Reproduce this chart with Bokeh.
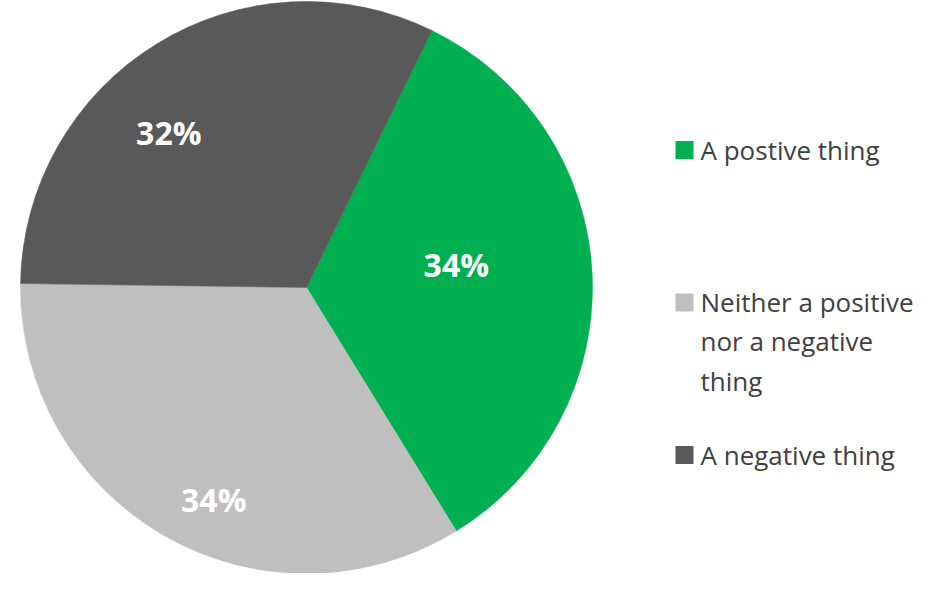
import math
from bokeh.plotting import figure
from bokeh.models import Range1d
from bokeh.core.properties import value
from bokeh.embed import file_html
from bokeh.resources import INLINE

# ---- data ----
categories = ["A postive thing", "Neither a positive\nnor a negative\nthing", "A negative thing"]
values = [34, 34, 32]
pct_labels = ["34%", "34%", "32%"]
colors = ["#00B050", "#BFBFBF", "#595959"]

# ---- layout / style ----
W, H = 920, 573
CX, CY_TOP, R = 306, 287, 286          # pie centre (pixels from top-left) and radius
FIRST_ANGLE_FROM_TOP = 26.0            # first slice starts 26 deg clockwise from 12 o'clock
LABEL_ROT = [6.0, 6.0, 10.0]           # label placement rotation (deg, counter-clockwise)
LABEL_RF = [0.53, 0.81, 0.725]         # label radius fraction per slice
FONT = "Open Sans"
LEG_X, LEG_Y0, LEG_STEP, LEG_SQ = 684, 149.5, 152.5, 18
LEG_TEXT_X = 700
LEG_FS = 26

p = figure(width=W, height=H, output_backend="svg", toolbar_location=None,
           x_range=Range1d(0, W), y_range=Range1d(0, H),
           min_border=0, x_axis_location=None, y_axis_location=None)
p.grid.visible = False
p.outline_line_color = None
p.background_fill_color = "white"
p.border_fill_color = "white"

cy = H - CY_TOP
total = float(sum(values))
start = 90.0 - FIRST_ANGLE_FROM_TOP
starts, ends = [], []
for v in values:
    span = v / total * 360.0
    starts.append(math.radians(start))
    ends.append(math.radians(start - span))
    start -= span

p.wedge(x=[CX] * len(values), y=[cy] * len(values), radius=R,
        start_angle=starts, end_angle=ends, direction="clock",
        fill_color=colors, line_color=colors, line_width=0.5)

# percentage labels
lx, ly = [], []
for s, e, f, rot in zip(starts, ends, LABEL_RF, LABEL_ROT):
    mid = (s + e) / 2 + math.radians(rot)
    lx.append(CX + f * R * math.cos(mid))
    ly.append(cy + f * R * math.sin(mid))
p.text(x=lx, y=ly, text=pct_labels, text_align="center", text_baseline="middle",
       text_font=value(FONT), text_font_style="bold", text_font_size="32px",
       text_color="white")

# legend
ys = [H - (LEG_Y0 + i * LEG_STEP) for i in range(len(categories))]
p.rect(x=[LEG_X] * len(categories), y=ys, width=LEG_SQ, height=LEG_SQ,
       fill_color=colors, line_color=None)
p.text(x=[LEG_TEXT_X] * len(categories), y=[y + 18.2 for y in ys], text=categories,
       text_align="left", text_baseline="top", text_font=value(FONT),
       text_font_size=f"{LEG_FS}px", text_color="#404040", text_line_height=1.087)

open("out.html", "w").write(file_html(p, INLINE))
